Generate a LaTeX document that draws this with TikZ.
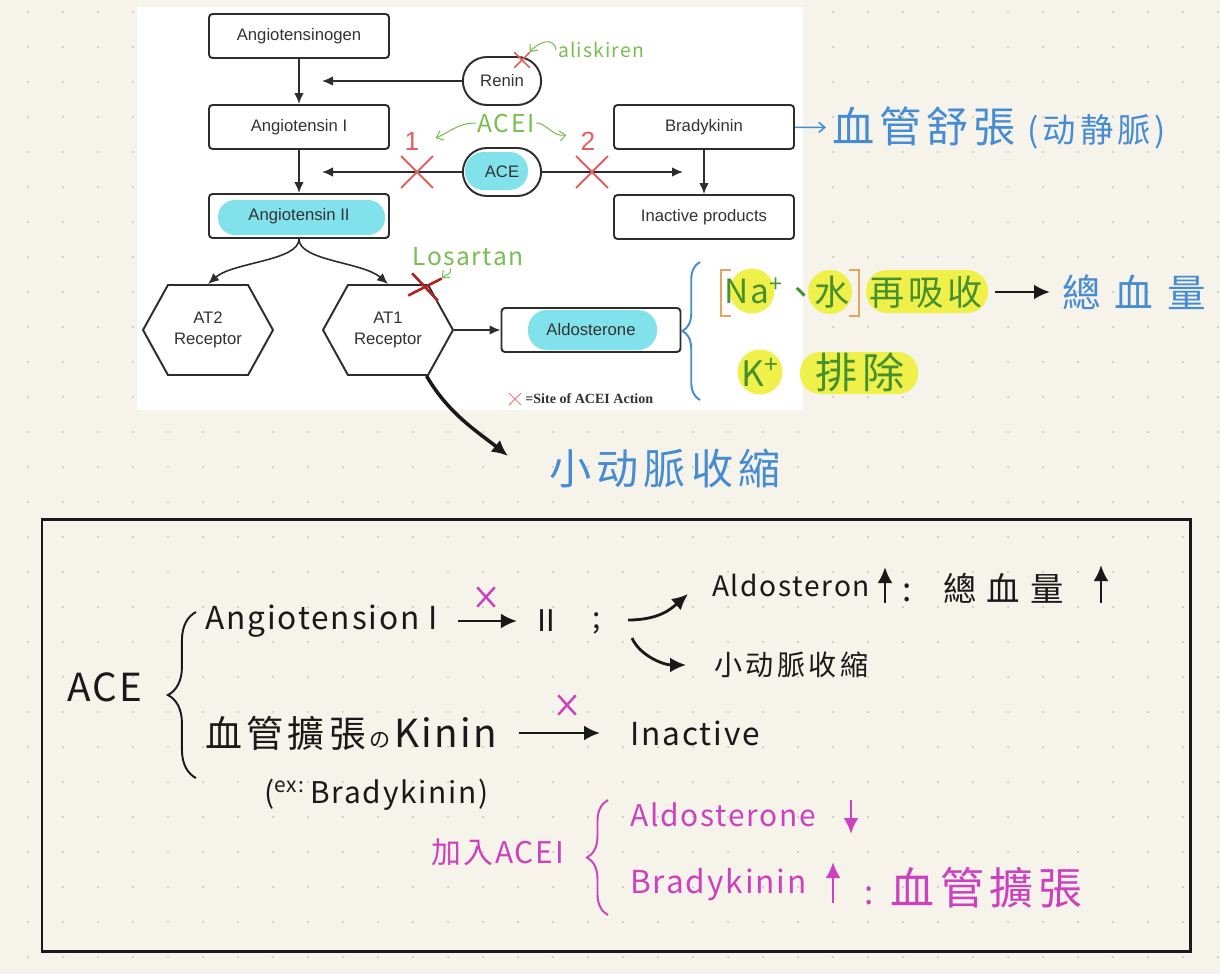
\documentclass[tikz,border=0pt]{standalone}
\usepackage{fontspec}
\setmainfont{Liberation Sans}
\newfontfamily\legendfont{Liberation Serif}
\newfontfamily\hand[LetterSpace=12]{Noto Sans CJK TC}
\newfontfamily\handlat[LetterSpace=6]{Noto Sans CJK TC}
\usetikzlibrary{arrows.meta,positioning,shapes.misc,shapes.symbols,decorations.pathreplacing}

\definecolor{paper}{RGB}{246,243,234}
\definecolor{dotgray}{RGB}{200,198,190}
\definecolor{linegray}{RGB}{45,45,45}
\definecolor{txtgray}{RGB}{50,50,50}
\definecolor{hlcyan}{RGB}{130,226,236}
\definecolor{hlyellow}{RGB}{240,240,75}
\definecolor{crossred}{RGB}{228,95,95}
\definecolor{darkred}{RGB}{175,35,35}
\definecolor{lightgreen}{RGB}{120,190,80}
\definecolor{inkgreen}{RGB}{70,145,45}
\definecolor{inkblue}{RGB}{70,140,210}
\definecolor{inkblack}{RGB}{25,25,25}
\definecolor{inkpink}{RGB}{205,65,190}
\definecolor{inkorange}{RGB}{225,165,95}

\tikzset{
  box/.style={draw=linegray, line width=1.1pt, rounded corners=2pt,
    minimum width=3.6cm, minimum height=0.88cm, text=txtgray,
    font=\fontsize{9.5}{11.5}\selectfont},
  pill/.style={rounded rectangle, draw=linegray, line width=1.1pt,
    minimum width=1.8cm, minimum height=0.96cm, text=txtgray,
    font=\fontsize{9.5}{11.5}\selectfont},
  receptor/.style={signal, signal to=east and west, signal pointer angle=122,
    draw=linegray, line width=1.1pt, minimum width=2.6cm, minimum height=1.8cm,
    inner sep=0pt, align=center, text=txtgray,
    font=\fontsize{9.5}{12}\selectfont},
  flow/.style={draw=linegray, line width=0.9pt, -{Latex[length=2.2mm,width=1.9mm]}},
  xmark/.style={cross out, draw=crossred, line width=1.1pt, minimum size=0.6cm, inner sep=0pt},
  pinkx/.style={cross out, draw=inkpink, line width=1.4pt, minimum width=0.3cm,
    minimum height=0.34cm, inner sep=0pt},
  ink/.style={font=\hand\fontsize{#1}{#1}\selectfont, inner sep=1pt},
  inkl/.style={font=\handlat\fontsize{#1}{#1}\selectfont, inner sep=1pt},
  inkarrow/.style={line width=1.6pt, -{Latex[length=3.2mm,width=3mm]}},
  thinarrow/.style={line width=0.6pt, -{Straight Barb[length=1.2mm,width=2mm]}},
  inkbrace/.style={decorate, decoration={brace, amplitude=#1}, line width=1.1pt}
}

\begin{document}
\begin{tikzpicture}[x=0.02cm,y=-0.02cm]
  \useasboundingbox (0,0) rectangle (1220,974);
  \fill[paper] (0,0) rectangle (1220,974);
  \foreach \i in {0,...,34}
    \foreach \j in {0,...,27}
      \fill[dotgray] (28+35*\i,12+35*\j) circle[radius=0.7pt];
  \fill[white] (137,7) rectangle (803,410);

  % marker
  \fill[hlcyan, rounded corners=0.34cm] (218,200) rectangle (385,235);
  \fill[hlcyan, rounded corners=0.37cm] (465,152) rectangle (528,190);
  \fill[hlcyan, rounded corners=0.38cm] (528,310) rectangle (657,350);
  \fill[hlyellow] (752,291) circle[radius=0.45cm];
  \fill[hlyellow] (830,292) circle[radius=0.44cm];
  \fill[hlyellow, rounded corners=0.42cm] (866,270) rectangle (988,313);
  \fill[hlyellow] (760,372) circle[radius=0.45cm];
  \fill[hlyellow, rounded corners=0.4cm] (800,352) rectangle (918,394);

  \node[box] (agen) at (299,36) {Angiotensinogen};
  \node[pill] (renin) at (502,81) {Renin};
  \node[box] (ang1) at (299,127) {Angiotensin I};
  \node[box] (brady) at (704,127) {Bradykinin};
  \node[pill] (ace) at (502,172) {ACE};
  \node[box] (ang2) at (299,216) {Angiotensin II};
  \node[box] (inact) at (704,217) {Inactive products};
  \node[receptor] (at2) at (208,330) {AT2\\Receptor};
  \node[receptor] (at1) at (388,330) {AT1\\Receptor};
  \node[box, minimum width=3.58cm] (aldo) at (591,330) {Aldosterone};

  \coordinate (renintip) at (322,81);
  \coordinate (acetipl) at (322,172);
  \coordinate (acetipr) at (683,172);
  \draw[flow] (agen) -- (ang1);
  \draw[flow] (ang1) -- (ang2);
  \draw[flow] (renin) -- (renintip);
  \draw[flow] (ace) -- (acetipl);
  \draw[flow] (ace) -- (acetipr);
  \draw[flow] (brady) -- (inact);
  \draw[flow] (ang2.south) .. controls +(0,22) and +(25,-22) .. (at2.north);
  \draw[flow] (ang2.south) .. controls +(0,22) and +(-25,-22) .. (at1.north);
  \draw[flow] (at1) -- (aldo);

  \node[xmark] (cut1) at (417,172) {};
  \node[xmark] (cut2) at (592,172) {};
  \node[xmark, minimum size=0.28cm, line width=0.9pt] (rcut) at (522,60) {};
  \node[xmark, draw=darkred, line width=1.5pt, minimum width=0.55cm,
    minimum height=0.4cm, rotate=-10] (lcut) at (425,287) {};
  \node[text=crossred, font=\fontsize{15}{15}\selectfont] (one) at (412,141) {1};
  \node[text=crossred, font=\fontsize{15}{15}\selectfont] (two) at (588,141) {2};

  \node[inkl=14, text=lightgreen] (acei) at (506,123) {ACEI};
  \draw[thinarrow, lightgreen] (acei.west) .. controls +(-18,0) and +(15,-6)
    .. ([xshift=0.2cm,yshift=0.06cm]one.east);
  \draw[thinarrow, lightgreen] (acei.east) .. controls +(10,0) and +(-14,2)
    .. ([xshift=-0.16cm,yshift=0.12cm]two.west);
  \node[inkl=11, text=lightgreen, anchor=west] (aliskiren) at (556,50) {aliskiren};
  \draw[thinarrow, lightgreen] (aliskiren.west) .. controls +(-2,-14) and +(8,-10) .. (rcut.north east);
  \node[inkl=14, text=lightgreen] (losartan) at (468,257) {Losartan};
  \draw[thinarrow, lightgreen] ([xshift=-0.35cm]losartan.south) .. controls +(0,8) and +(6,-6) .. (lcut.north east);

  \node[xmark, draw=crossred!80, line width=0.6pt, minimum size=0.22cm] (legx) at (515,399) {};
  \node[right=0.08cm of legx, inner sep=0pt, text=txtgray,
    font=\legendfont\bfseries\fontsize{8}{9}\selectfont] (legtxt) {=Site of ACEI Action};

  \node[ink=24, text=inkblue, anchor=west] (dilate) at (830,128)
    {血管舒張{\fontsize{19}{19}\selectfont\ (动静脈)}};
  \draw[thinarrow, inkblue, line width=0.9pt, shorten >=0.08cm] (brady) -- (dilate);

  \draw[inkbrace=10pt, inkblue] (700,400) -- (700,262);
  \draw[inkorange, line width=1.2pt] (731,270) -- (721,270) -- (721,316) -- (731,316);
  \node[inkl=19, text=inkgreen] (na) at (754,291) {Na\textsuperscript{+}};
  \node[ink=20, text=inkgreen] (comma) at (801,296) {、};
  \node[ink=20, text=inkgreen] (water) at (832,292) {水};
  \draw[inkorange, line width=1.2pt] (849,270) -- (859,270) -- (859,316) -- (849,316);
  \node[ink=20, text=inkgreen] (reabs) at (926,292) {再吸收};
  \node[ink=22, text=inkblue, anchor=west] (totvol) at (1060,292) {總\hspace{8pt}血\hspace{8pt}量};
  \draw[inkarrow, inkblack, shorten <=0.2cm, shorten >=0.2cm] (reabs) -- (totvol);
  \node[inkl=20, text=inkgreen] (kplus) at (760,372) {K\textsuperscript{+}};
  \node[ink=24, text=inkgreen] (excrete) at (860,372) {排除};

  \node[ink=24, text=inkblue] (constrict) at (665,468) {小动脈收縮};
  \coordinate (bigtip) at (508,456);
  \draw[inkarrow, inkblack, line width=2pt] (at1.-50) .. controls +(22,38) and +(-30,-24) .. (bigtip);

  \draw[inkblack, line width=1.7pt] (42,519) rectangle (1190,951);
  \node[inkl=22, text=inkblack] (acetxt) at (105,687) {ACE};
  \draw[inkbrace=16pt, inkblack] (196,778) -- (196,612);
  \node[inkl=18, anchor=west, text=inkblack] (conv) at (203,621) {Angiotension I};
  \node[ink=17, text=inkblack] (angii) at (546,621) {Ⅱ};
  \node[ink=17, text=inkblack] (semi) at (597,623) {;};
  \draw[inkarrow, inkblack, shorten <=0.36cm, shorten >=0.24cm] (conv) -- (angii);
  \node[pinkx] (block1) at (486,597) {};

  \coordinate (forkup) at (628,620);
  \coordinate (forkdn) at (632,638);
  \node[inkl=16, anchor=west, text=inkblack] (aldoup) at (710,585) {Aldosteron};
  \node[ink=19, anchor=west, text=inkblack] (volup) at (900,588)
    {:\hspace{18pt}總\hspace{6pt}血\hspace{6pt}量};
  \draw[inkarrow, inkblack] (forkup) .. controls +(32,0) and +(-16,14)
    .. ([xshift=-0.44cm,yshift=-0.18cm]aldoup.west);
  \node[ink=16, anchor=west, text=inkblack] (arterio) at (712,665) {小动脈收縮};
  \draw[inkarrow, inkblack] (forkdn) .. controls +(8,18) and +(-22,0)
    .. ([xshift=-0.52cm]arterio.west);
  \draw[inkarrow, inkblack] (885,603) -- (885,567);
  \draw[inkarrow, inkblack] (1101,603) -- (1101,565);

  \node[ink=21, anchor=west, text=inkblack] (kinin) at (203,733)
    {血管擴張{\fontsize{12}{12}\selectfont\,の\,}{\handlat\fontsize{22}{22}\selectfont Kinin}};
  \node[inkl=18, anchor=west, text=inkblack] (inactive) at (628,733) {Inactive};
  \draw[inkarrow, inkblack, shorten <=0.4cm, shorten >=0.56cm] (kinin) -- (inactive);
  \node[pinkx] (block2) at (567,705) {};
  \node[inkl=17, anchor=west, text=inkblack] (example) at (262,795)
    {(\textsuperscript{ex:}\,Bradykinin)};

  \node[inkl=17, anchor=east, text=inkpink] (addacei) at (566,852) {加入ACEI};
  \draw[inkbrace=12pt, inkpink] (608,915) -- (608,800);
  \node[inkl=17, anchor=west, text=inkpink] (aldodown) at (628,815) {Aldosterone};
  \draw[inkarrow, inkpink] (851,800) -- (851,834);
  \node[inkl=18, anchor=west, text=inkpink] (bkup) at (628,885) {Bradykinin};
  \draw[inkarrow, inkpink] (833,903) -- (833,862);
  \node[ink=25, anchor=west, text=inkpink] (dilate2) at (862,888)
    {{\fontsize{19}{19}\selectfont :}\hspace{10pt}血管擴張};
\end{tikzpicture}
\end{document}
